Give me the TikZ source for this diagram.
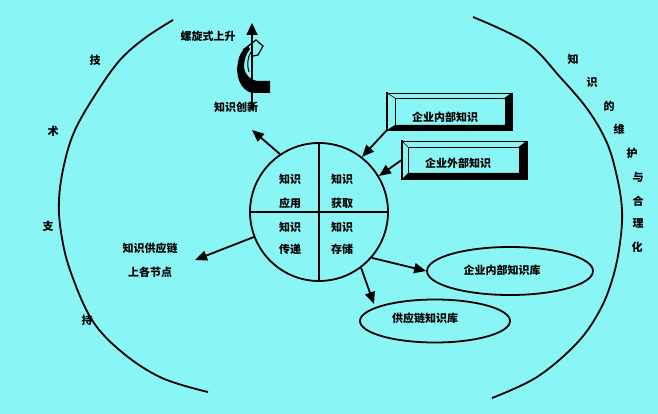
\documentclass[tikz,border=0pt]{standalone}
\usepackage{fontspec}
\setmainfont{Noto Sans CJK SC}
\usetikzlibrary{arrows.meta,shapes.geometric,calc}
\definecolor{bgc}{RGB}{137,245,245}
\begin{document}
\begin{tikzpicture}[x=1pt,y=-1pt,
  font=\fontsize{11}{13}\selectfont\bfseries,
  lbl/.style={inner sep=0pt},
  ln/.style={line width=1.8pt},
  arr/.style={line width=1.8pt,-{Triangle[length=12pt,width=10pt]}},
  boxnode/.style={draw,line width=0.8pt,inner sep=0pt},
  ellnode/.style={ellipse,draw,line width=1.8pt,inner sep=0pt}]
\fill[bgc] (0,0) rectangle (658,414);
\useasboundingbox (0,0) rectangle (658,414);

% big arcs
\draw[ln] plot[smooth,tension=0.6] coordinates {(173,20) (145,38) (120,60) (97,92) (75,130) (64,165) (59,200) (61,232) (70,270) (92,320) (123,353) (162,378) (208,392)};
\draw[ln] plot[smooth,tension=0.6] coordinates {(473,17) (527,43) (560,77) (588,110) (607,143) (617,177) (622,210) (620,243) (613,277) (600,310) (577,343) (537,377) (492,398)};

% left vertical text
\node[lbl] (l1) at (95,60) {技};
\node[lbl] (l2) at (53,131) {术};
\node[lbl] (l3) at (48,226) {支};
\node[lbl] (l4) at (87,320) {持};
% right vertical text
\node[lbl] (r1) at (573,59) {知};
\node[lbl] (r2) at (592,82) {识};
\node[lbl] (r3) at (609,106) {的};
\node[lbl] (r4) at (619,129) {维};
\node[lbl] (r5) at (632,153) {护};
\node[lbl] (r6) at (638,177) {与};
\node[lbl] (r7) at (638,201) {合};
\node[lbl] (r8) at (638,223) {理};
\node[lbl] (r9) at (637,247) {化};

% central circle
\node[circle,draw,line width=1.8pt,minimum size=138pt,inner sep=0pt] (C) at (319,212) {};
\draw[ln] (C.north) -- (C.south);
\draw[ln] (C.west) -- (C.east);
\node[lbl] (q1a) at (290,179) {知识};
\node[lbl] (q1b) at (290,203) {应用};
\node[lbl] (q2a) at (342,179) {知识};
\node[lbl] (q2b) at (342,203) {获取};
\node[lbl] (q3a) at (290,227) {知识};
\node[lbl] (q3b) at (290,249) {传递};
\node[lbl] (q4a) at (342,227) {知识};
\node[lbl] (q4b) at (342,249) {存储};

% box 1
\node[boxnode,minimum width=125pt,minimum height=37pt] (B1) at (449.5,111.5) {};
\fill[black] (512,93) -- (512,130) -- (387,130) -- (395,125) -- (505,125) -- (505,98) -- cycle;
\draw[line width=2.6pt] (387,92) -- (387,131);
\draw[line width=0.8pt] (395,98) rectangle (505,125);
\draw[line width=0.6pt] (387,93) -- (395,98) (512,93) -- (505,98);
\node[lbl] (B1t) at (445,117) {企业内部知识};

% box 2
\node[boxnode,minimum width=125pt,minimum height=38pt] (B2) at (464.5,160) {};
\fill[black] (527,141) -- (527,179) -- (402,179) -- (408,173) -- (519,173) -- (519,147) -- cycle;
\draw[line width=2.6pt] (402,140) -- (402,180);
\draw[line width=0.8pt] (408,147) rectangle (519,173);
\draw[line width=0.6pt] (402,141) -- (408,147) (527,141) -- (519,147);
\node[lbl] (B2t) at (458,163) {企业外部知识};

% ellipses
\node[ellnode,minimum width=166pt,minimum height=48pt] (E1) at (510,271) {};
\node[lbl] (E1t) at (502,270) {企业内部知识库};
\node[ellnode,minimum width=150pt,minimum height=43pt] (E2) at (435,321) {};
\node[lbl] (E2t) at (425,318) {供应链知识库};

% labels
\node[lbl] (S1) at (150,248) {知识供应链};
\node[lbl] (S2) at (150,272) {上各节点};
\node[lbl] (spi) at (208,36) {螺旋式上升};

% spiral
\coordinate (sp0) at (252,109);
\coordinate (sp1) at (252,23);
\fill (270,81) -- (270,93) -- (252,93) .. controls (240,90) and (235,75) .. (238,62)
  .. controls (239,55) and (242,50) .. (248,46) -- (250,49)
  .. controls (246,54) and (244,60) .. (244,67)
  .. controls (245,75) and (250,80) .. (258,81) -- cycle;
\draw[line width=2.2pt,-{Triangle[length=12pt,width=11pt]}] (sp0) -- (sp1);
\draw[line width=1pt] (251,52) .. controls (247,58) and (247,66) .. (249,72);
\draw[line width=1.2pt,line join=miter] (243,50) -- (256,40) -- (263,46) -- (258,55) -- (253,56);
\node[lbl] (KI) at (236,107) {知识创新};

% connectors
\coordinate (tI) at (252,130);
\coordinate (tS) at (195,260);
\coordinate (tE2) at (374,304);
\draw[arr] (C.124) -- (tI);
\draw[arr] (B1.south west) -- (C.52);
\draw[arr] (B2.west) -- (C.31);
\draw[arr] (C.201) -- (tS);
\draw[arr] (C.-41) -- (E1.west);
\draw[arr] (C.-53) -- (tE2);
\end{tikzpicture}
\end{document}
